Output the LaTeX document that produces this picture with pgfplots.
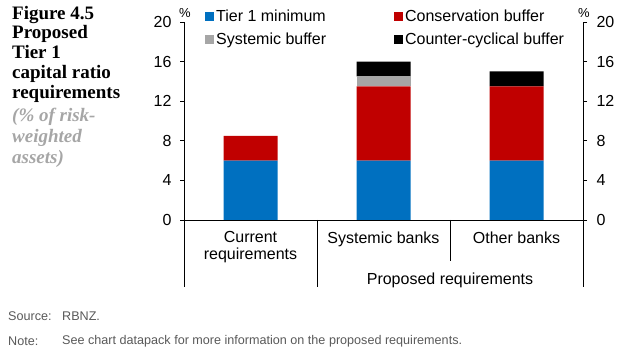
\documentclass[border=0pt]{standalone}
\usepackage{pgfplots}
\pgfplotsset{compat=1.18}
\usepackage{fontspec}
\setmainfont{Liberation Sans}
\newfontfamily\titlefont{Liberation Serif}
\definecolor{tblue}{HTML}{0070C0}
\definecolor{cred}{HTML}{C00000}
\definecolor{sgray}{HTML}{A6A6A6}
\definecolor{igray}{HTML}{A6A6A6}
\definecolor{fgray}{HTML}{595959}
\begin{document}
\begin{tikzpicture}
\path[use as bounding box] (0bp,0bp) rectangle (627bp,359bp);
% title block
\begin{scope}[every node/.style={anchor=base west, inner sep=0pt, font=\titlefont\bfseries\fontsize{19bp}{20bp}\selectfont}]
\node at (12bp,339bp) {Figure 4.5};
\node at (12bp,320bp) {Proposed};
\node at (12bp,300bp) {Tier 1};
\node at (12bp,280bp) {capital ratio};
\node at (12bp,260bp) {requirements};
\end{scope}
\begin{scope}[every node/.style={anchor=base west, inner sep=0pt, text=igray, font=\titlefont\bfseries\itshape\fontsize{19bp}{20bp}\selectfont}]
\node at (12bp,237bp) {(\% of risk-};
\node at (12bp,216bp) {weighted};
\node at (12bp,195bp) {assets)};
\end{scope}
% footer
\begin{scope}[every node/.style={anchor=west, inner sep=0pt, text=fgray, font=\fontsize{12.6bp}{14bp}\selectfont}]
\node at (8bp,43bp) {Source:};
\node at (62bp,43bp) {RBNZ.};
\node at (8bp,18bp) {Note:};
\node at (62bp,18bp) {See chart datapack for more information on the proposed requirements.};
\end{scope}
\begin{axis}[
  at={(184bp,139bp)}, anchor=south west, scale only axis,
  width=399bp, height=198bp,
  xmin=-0.5, xmax=2.5, ymin=0, ymax=20,
  ybar stacked, bar width=54bp,
  axis x line*=bottom, axis y line*=left,
  axis line style={black, line width=0.8bp},
  xtick={0,1,2},
  xticklabels={Current\\requirements, Systemic banks, Other banks},
  x tick label style={align=center, font=\fontsize{16bp}{17bp}\selectfont, yshift=-4bp},
  major x tick style={draw=none},
  ytick={0,4,...,20},
  y tick label style={font=\fontsize{16bp}{17bp}\selectfont, xshift=-5bp},
  tick align=outside, major tick length=4bp,
  tick style={black, line width=0.8bp},
  /pgf/number format/assume math mode=true,
  clip=false,
  legend columns=2,
  legend cell align=left,
  legend style={at={(axis cs:-0.5,20)}, anchor=north west, xshift=18bp, yshift=16bp,
    draw=none, fill=none, font=\fontsize{16bp}{17bp}\selectfont,
    /tikz/every even column/.append style={column sep=66bp},
    row sep=6bp},
  legend image code/.code={\fill[#1,draw=none] (0bp,-4.5bp) rectangle (9bp,4.5bp);},
]
\addplot[fill=tblue, draw=none] coordinates {(0,6) (1,6) (2,6)};
\addplot[fill=cred, draw=none] coordinates {(0,2.5) (1,7.5) (2,7.5)};
\addplot[fill=sgray, draw=none] coordinates {(0,0) (1,1) (2,0)};
\addplot[fill=black, draw=none] coordinates {(0,0) (1,1.5) (2,1.5)};
\legend{Tier 1 minimum, Conservation buffer, Systemic buffer, Counter-cyclical buffer}
\draw[line width=0.8bp] (axis cs:-0.5,0) -- ++(0bp,-67bp);
\draw[line width=0.8bp] (axis cs:0.5,0) -- ++(0bp,-67bp);
\draw[line width=0.8bp] (axis cs:1.5,0) -- ++(0bp,-41bp);
\draw[line width=0.8bp] (axis cs:2.5,0) -- ++(0bp,-67bp);
\node[font=\fontsize{16bp}{17bp}\selectfont] at (axis cs:1.5,0) [yshift=-60bp] {Proposed requirements};
\node[font=\fontsize{13bp}{14bp}\selectfont, inner sep=0pt] at (rel axis cs:0,1) [yshift=9bp, xshift=1bp] {\%};
\node[font=\fontsize{13bp}{14bp}\selectfont, inner sep=0pt] at (rel axis cs:1,1) [yshift=9bp, xshift=1bp] {\%};
\end{axis}
\begin{axis}[
  at={(184bp,139bp)}, anchor=south west, scale only axis,
  width=399bp, height=198bp,
  xmin=-0.5, xmax=2.5, ymin=0, ymax=20,
  axis x line=none, axis y line*=right,
  axis line style={black, line width=0.8bp},
  ytick={0,4,...,20},
  y tick label style={font=\fontsize{16bp}{17bp}\selectfont, xshift=6bp},
  tick align=outside, major tick length=4bp,
  tick style={black, line width=0.8bp},
  /pgf/number format/assume math mode=true,
]
\addplot[draw=none] coordinates {(0,0)};
\end{axis}
\end{tikzpicture}
\end{document}
